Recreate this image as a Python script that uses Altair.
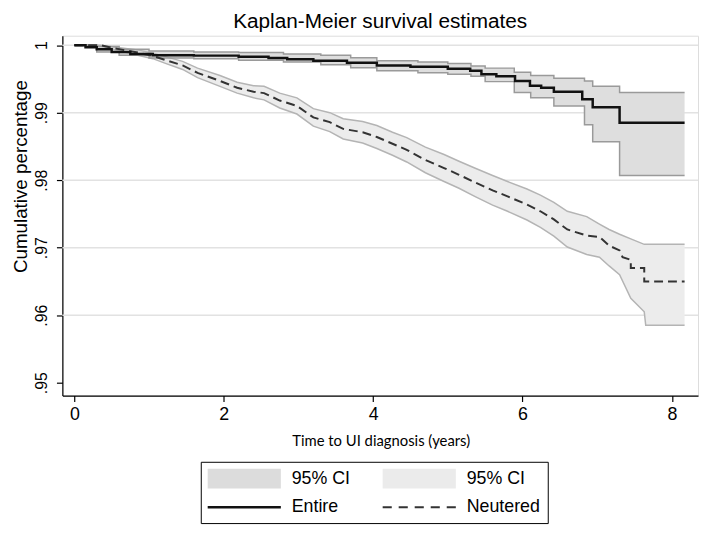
import altair as alt
import pandas as pd

# ---- Entire: KM estimate (step curve) ----
entire_t = [0.00, 0.15, 0.30, 0.50, 0.75, 1.05, 1.60, 2.20, 2.60, 2.85, 3.20, 3.65, 4.05,
            4.50, 5.00, 5.30, 5.45, 5.65, 5.90, 6.10, 6.25, 6.42, 6.80, 6.94, 7.30, 8.17]
entire_s = [1.0000, 0.9997, 0.9994, 0.9990, 0.9987, 0.9985, 0.99845, 0.9983, 0.9981, 0.9979,
            0.9977, 0.9974, 0.9970, 0.9968, 0.9965, 0.9962, 0.9957, 0.9954, 0.9947, 0.9940,
            0.9937, 0.9931, 0.9920, 0.9908, 0.9885, 0.9885]

# ---- Entire: 95% CI ----
entire_ci_t = [0.00, 0.30, 0.60, 1.00, 1.60, 2.20, 2.80, 3.30, 3.70, 4.05, 4.60, 5.00, 5.31,
               5.50, 5.89, 6.11, 6.42, 6.83, 6.94, 7.30, 8.17]
entire_ci_lo = [1.0000, 0.9990, 0.9985, 0.9981, 0.9980, 0.99775, 0.9975, 0.9971, 0.99665, 0.9962,
                0.9959, 0.9957, 0.9954, 0.9946, 0.9930, 0.9922, 0.9910, 0.9882, 0.9857, 0.9807, 0.9807]
entire_ci_hi = [1.0000, 0.9998, 0.9994, 0.99915, 0.9990, 0.9989, 0.9987, 0.9985, 0.99815, 0.9977,
                0.9975, 0.9973, 0.9969, 0.9966, 0.9960, 0.9955, 0.9951, 0.9947, 0.9939, 0.9930, 0.9930]

# ---- Neutered: KM estimate ----
neut_t = [0.00, 0.35, 0.55, 0.85, 1.05, 1.22, 1.45, 1.65, 1.95, 2.18, 2.40, 2.54, 2.75, 2.98,
          3.20, 3.42, 3.60, 3.86, 4.05, 4.26, 4.45, 4.70, 4.95, 5.15, 5.36, 5.60, 5.80, 6.06,
          6.24, 6.42, 6.60, 6.86, 7.03, 7.16, 7.30, 7.34, 7.45, 7.45, 7.63, 7.63, 8.17]
neut_s = [1.0000, 1.0000, 0.9995, 0.9989, 0.9984, 0.9978, 0.9970, 0.9959, 0.9947, 0.9937,
          0.9931, 0.9929, 0.9918, 0.9910, 0.9893, 0.9886, 0.9876, 0.9871, 0.9864, 0.9854,
          0.9845, 0.9830, 0.9818, 0.9808, 0.9797, 0.9785, 0.9776, 0.9764, 0.9754, 0.9742,
          0.9727, 0.9718, 0.9716, 0.9703, 0.9696, 0.9686, 0.9682, 0.9670, 0.9670, 0.9650, 0.9650]

# ---- Neutered: 95% CI ----
neut_ci_t = [0.00, 0.35, 0.55, 0.85, 1.05, 1.22, 1.45, 1.65, 1.95, 2.18, 2.40, 2.54, 2.75, 2.98,
             3.20, 3.42, 3.60, 3.86, 4.05, 4.26, 4.45, 4.70, 4.95, 5.15, 5.36, 5.60, 5.80, 6.06,
             6.24, 6.42, 6.60, 6.86, 7.03, 7.16, 7.30, 7.45, 7.63, 7.65, 8.17]
neut_ci_lo = [1.0000, 0.9999, 0.9993, 0.9985, 0.9980, 0.9973, 0.9964, 0.9952, 0.9939, 0.9929,
              0.9922, 0.9919, 0.9907, 0.9898, 0.9880, 0.9872, 0.9861, 0.9855, 0.9847, 0.9837,
              0.9827, 0.9811, 0.9798, 0.9788, 0.9776, 0.9763, 0.9754, 0.9741, 0.9730, 0.9717,
              0.9701, 0.9690, 0.9686, 0.9673, 0.9660, 0.9625, 0.9605, 0.9585, 0.9585]
neut_ci_hi = [1.0000, 1.0000, 0.9997, 0.9993, 0.9988, 0.9983, 0.9976, 0.9966, 0.9955, 0.9945,
              0.9940, 0.9939, 0.9929, 0.9922, 0.9906, 0.9900, 0.9891, 0.9887, 0.9881, 0.9871,
              0.9863, 0.9849, 0.9838, 0.9828, 0.9818, 0.9807, 0.9798, 0.9787, 0.9778, 0.9767,
              0.9754, 0.9746, 0.9735, 0.9727, 0.9720, 0.9713, 0.9705, 0.9705, 0.9705]

grid_values = [1.0, 0.99, 0.98, 0.97, 0.96]
y_ticks = [0.95, 0.96, 0.97, 0.98, 0.99, 1.0]
x_ticks = [0, 2, 4, 6, 8]

# legend entries, column-major order: (CI, line) for Entire, then for Neutered
legend_keys = ["ci_entire", "Entire", "ci_neutered", "Neutered"]
legend_colors = ["#dcdcdc", "#111111", "#ebebeb", "#333333"]
legend_shapes = [
    "M-3.7,-1H3.7V1H-3.7Z",
    "M-3.7,-0.12H3.7V0.12H-3.7Z",
    "M-3.7,-1H3.7V1H-3.7Z",
    "M-3.7,-0.1H-2.78V0.1H-3.7Z M-2.08,-0.1H-1.16V0.1H-2.08Z M-0.46,-0.1H0.46V0.1H-0.46Z "
    "M1.16,-0.1H2.08V0.1H1.16Z M2.78,-0.1H3.7V0.1H2.78Z",
]

entire_df = pd.DataFrame({"t": entire_t, "v": entire_s})
entire_ci_df = pd.DataFrame({"t": entire_ci_t, "lo": entire_ci_lo, "hi": entire_ci_hi})
neut_df = pd.DataFrame({"t": neut_t, "v": neut_s})
neut_ci_df = pd.DataFrame({"t": neut_ci_t, "lo": neut_ci_lo, "hi": neut_ci_hi})
grid_df = pd.DataFrame({"g": grid_values})
legend_df = pd.DataFrame({"key": legend_keys})

xscale = alt.Scale(domain=[-0.16, 8.35], nice=False, zero=False)
yscale = alt.Scale(domain=[0.9481, 1.0014], nice=False, zero=False)

xaxis = alt.Axis(
    values=x_ticks, title="Time to UI diagnosis (years)", grid=False,
    tickSize=6, tickColor="black", tickWidth=1.2, domainColor="black", domainWidth=1.2,
    labelFont="Liberation Sans", labelFontSize=18, labelColor="black", labelPadding=4,
    labelFlush=False,
    titleFont="Lato", titleFontSize=15, titleFontWeight="normal", titleColor="black",
    titleBaseline="alphabetic", titleX=322, titleY=51,
)
yaxis = alt.Axis(
    values=y_ticks, title="Cumulative percentage", grid=False,
    tickSize=6, tickColor="black", tickWidth=1.2, domainColor="black", domainWidth=1.2,
    labelFont="Liberation Sans", labelFontSize=16, labelColor="black",
    labelAngle=270, labelAlign="center", labelBaseline="bottom", labelPadding=7,
    labelFlush=False,
    labelExpr="datum.value >= 0.999 ? '1' : replace(format(datum.value, '.2f'), '0.', '.')",
    titleFont="Liberation Sans", titleFontSize=19, titleFontWeight="normal", titleColor="black",
    titleAngle=270, titleBaseline="alphabetic", titleAlign="center", titleX=-36, titleY=142,
)

X = alt.X("t:Q", scale=xscale, axis=xaxis)

grid = alt.Chart(grid_df).mark_rule(color="#e2e2e2", strokeWidth=1.5).encode(
    y=alt.Y("g:Q", scale=yscale, axis=yaxis)
)

neut_band = alt.Chart(neut_ci_df).mark_area(color="#ececec", opacity=1).encode(
    x=X, y=alt.Y("lo:Q", scale=yscale, axis=yaxis), y2="hi:Q"
)
entire_band = alt.Chart(entire_ci_df).mark_area(
    color="#dedede", opacity=1, interpolate="step-after"
).encode(x=X, y=alt.Y("lo:Q", scale=yscale, axis=yaxis), y2="hi:Q")

neut_lo = alt.Chart(neut_ci_df).mark_line(color="#b4b4b4", strokeWidth=1.5).encode(
    x=X, y=alt.Y("lo:Q", scale=yscale, axis=yaxis))
neut_hi = alt.Chart(neut_ci_df).mark_line(color="#b4b4b4", strokeWidth=1.5).encode(
    x=X, y=alt.Y("hi:Q", scale=yscale, axis=yaxis))
ent_lo = alt.Chart(entire_ci_df).mark_line(
    color="#9a9a9a", strokeWidth=1.5, interpolate="step-after").encode(
    x=X, y=alt.Y("lo:Q", scale=yscale, axis=yaxis))
ent_hi = alt.Chart(entire_ci_df).mark_line(
    color="#9a9a9a", strokeWidth=1.5, interpolate="step-after").encode(
    x=X, y=alt.Y("hi:Q", scale=yscale, axis=yaxis))

neut_line = alt.Chart(neut_df).mark_line(
    color="#333333", strokeWidth=2, strokeDash=[9, 5]).encode(
    x=X, y=alt.Y("v:Q", scale=yscale, axis=yaxis))
ent_line = alt.Chart(entire_df).mark_line(
    color="#111111", strokeWidth=2.5, interpolate="step-after").encode(
    x=X, y=alt.Y("v:Q", scale=yscale, axis=yaxis))

leg = alt.Legend(
    title=None, orient="none", legendX=140, legendY=431, columns=2,
    symbolSize=400, symbolStrokeWidth=0, symbolOffset=27, labelOffset=38,
    labelFont="Liberation Sans", labelFontSize=18, labelColor="black",
    labelExpr="indexof(datum.label, 'ci_') == 0 ? '95% CI' : datum.label",
    strokeColor="black", padding=7, rowPadding=9, columnPadding=32,
)
legend_layer = alt.Chart(legend_df).mark_point(filled=True, opacity=1).encode(
    color=alt.Color("key:N", scale=alt.Scale(domain=legend_keys, range=legend_colors), legend=leg),
    shape=alt.Shape("key:N", scale=alt.Scale(domain=legend_keys, range=legend_shapes), legend=leg),
).transform_filter("false")

chart = alt.layer(
    grid, neut_band, entire_band, neut_lo, neut_hi, ent_lo, ent_hi, neut_line, ent_line, legend_layer
).properties(
    width=643, height=364,
    padding={"left": 55, "top": 25, "right": 2, "bottom": 136},
    autosize=alt.AutoSizeParams(type="none"),
    title=alt.TitleParams("Kaplan-Meier survival estimates", font="Liberation Sans", fontSize=21,
                          fontWeight="normal", color="black", anchor="middle", offset=4),
).configure_view(stroke=None).configure(background="white")

chart.save("out.html", embed_options={"renderer": "svg", "actions": False})
